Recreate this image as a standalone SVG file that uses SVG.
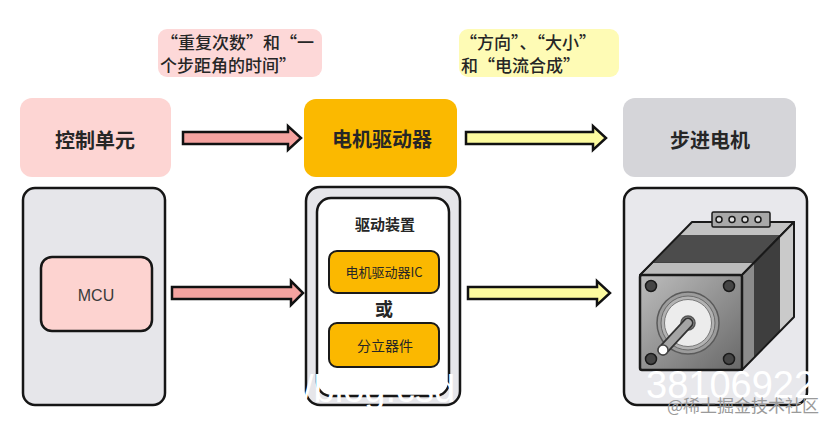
<svg xmlns="http://www.w3.org/2000/svg" width="828" height="423" viewBox="0 0 828 423">
<defs>
<style>
.cjk{font-family:"Noto Sans CJK SC","Noto Sans",sans-serif;fill:#262626}
.lat{font-family:"Liberation Sans","Noto Sans CJK SC",sans-serif;fill:#3a3a3a}
.title{font-size:20px;font-weight:700;text-anchor:middle;dominant-baseline:central}
.lbl{font-size:17px;font-weight:500}
.box{stroke:#161616;stroke-width:2.5}
.arrow{stroke:#111;stroke-width:2.5;stroke-linejoin:miter}
.ic{fill:#fbb800;stroke:#1a1a1a;stroke-width:2}
</style>
<linearGradient id="front" x1="0" y1="0" x2="1" y2="1">
<stop offset="0" stop-color="#bdbdbd"/>
<stop offset="1" stop-color="#686868"/>
</linearGradient>
</defs>
<rect width="828" height="423" fill="#ffffff"/>

<g id="label-control">
<rect x="158" y="29" width="164" height="48" rx="9" fill="#fdd8d8"/>
<text class="cjk lbl" x="161" y="48.5">“重复次数”和“一</text>
<text class="cjk lbl" x="160" y="71.5">个步距角的时间”</text>
</g>
<g id="label-driver">
<rect x="459" y="29" width="160" height="48" rx="9" fill="#fefbb5"/>
<text class="cjk lbl" x="460" y="48.5">“方向”、“大小”</text>
<text class="cjk lbl" x="461" y="71.5">和“电流合成”</text>
</g>

<g id="control-unit">
<rect x="20" y="98" width="151" height="79" rx="12" fill="#fdd5d3"/>
<text class="cjk title" x="95" y="139">控制单元</text>
</g>
<g id="motor-driver">
<rect x="304" y="99" width="153" height="78" rx="12" fill="#fbb900"/>
<text class="cjk title" x="382" y="138">电机驱动器</text>
</g>
<g id="stepper-motor">
<rect x="623" y="98" width="173" height="79" rx="12" fill="#d5d5d9"/>
<text class="cjk title" x="710" y="139">步进电机</text>
</g>

<g id="mcu-panel">
<rect class="box" x="23" y="188" width="142" height="217" rx="12" fill="#e6e6ea"/>
<rect class="box" x="41" y="257" width="111" height="74" rx="11" fill="#fdd3d0"/>
<text class="lat" x="96" y="295" font-size="16" text-anchor="middle" dominant-baseline="central">MCU</text>
</g>

<g id="driver-panel">
<rect class="box" x="306" y="187" width="154" height="218" rx="14" fill="#e6e6ea"/>
<rect class="box" x="317" y="198" width="132" height="198" rx="14" fill="#ffffff"/>
<text class="cjk" x="385" y="223" font-size="15" font-weight="700" text-anchor="middle" dominant-baseline="central">驱动装置</text>
<rect class="ic" x="329" y="251" width="110" height="42" rx="8"/>
<text class="cjk" x="384" y="271" font-size="13" text-anchor="middle" dominant-baseline="central">电机驱动器IC</text>
<text class="cjk" x="384" y="308" font-size="18" font-weight="700" text-anchor="middle" dominant-baseline="central">或</text>
<rect class="ic" x="329" y="323" width="110" height="44" rx="8"/>
<text class="cjk" x="385" y="345" font-size="14" text-anchor="middle" dominant-baseline="central">分立器件</text>
</g>

<g id="motor-panel">
<rect class="box" x="624" y="188" width="183" height="217" rx="13" fill="#e8e8ec"/>
<g stroke="#1a1a1a" stroke-width="1.5" stroke-linejoin="round">
<polygon points="640,275 742,275 755,262 653,262" fill="#bcbcbc"/>
<polygon points="653,262 755,262 781,235 679,235" fill="#4c4c4c" stroke="none"/>
<polygon points="679,235 781,235 794,222 692,222" fill="#c2c2c2" stroke="none"/>
<polygon points="640,275 742,275 794,222 692,222" fill="none" stroke-width="2"/>
<polygon points="742,275 754,263 754,358 742,370" fill="#8c8c8c" stroke="none"/>
<polygon points="754,263 780,236 780,331 754,358" fill="#3e3e3e" stroke="none"/>
<polygon points="780,236 794,222 794,317 780,331" fill="#cacaca" stroke="none"/>
<polygon points="742,275 794,222 794,317 742,370" fill="none" stroke-width="2"/>
<rect x="712" y="212" width="58" height="15" rx="1.5" fill="#a8a8a8"/>
<circle cx="719" cy="219.5" r="3" fill="#e0e0e0"/>
<circle cx="732" cy="219.5" r="3" fill="#e0e0e0"/>
<circle cx="745" cy="219.5" r="3" fill="#e0e0e0"/>
<circle cx="758" cy="219.5" r="3" fill="#e0e0e0"/>
<rect x="640" y="275" width="102" height="95" rx="2" fill="url(#front)" stroke-width="2.5"/>
<circle cx="651" cy="286" r="5.5" fill="#454545"/>
<circle cx="729" cy="286" r="5.5" fill="#454545"/>
<circle cx="651" cy="359" r="5.5" fill="#454545"/>
<circle cx="729" cy="359" r="5.5" fill="#454545"/>
<circle cx="688" cy="323" r="31" fill="#9c9c9c" stroke="#5a5a5a"/>
<circle cx="688" cy="323" r="27" fill="#b2b2b2" stroke="#6a6a6a" stroke-width="1"/>
<circle cx="688" cy="323" r="23.5" fill="#ececec" stroke="#7a7a7a" stroke-width="1"/>
<circle cx="688" cy="323" r="7" fill="#8a8a8a" stroke="#555"/>
<line x1="688" y1="323" x2="663" y2="350" stroke="#333" stroke-width="11" stroke-linecap="round"/>
<line x1="688" y1="323" x2="663" y2="350" stroke="#a4a4a4" stroke-width="7.5" stroke-linecap="round"/>
<circle cx="663" cy="350" r="5" fill="#ffffff" stroke="#444"/>
</g>
</g>

<g id="connectors">
<path class="arrow" fill="#f5a3a0" d="M183,132 L288,132 L288,126 L301,138 L288,150 L288,144 L183,144 Z"/>
<path class="arrow" fill="#fdfb9f" d="M466,132 L593,132 L593,126 L606,138 L593,150 L593,144 L466,144 Z"/>
<path class="arrow" fill="#f5a3a0" d="M172,287 L291,287 L291,281 L303,293 L291,305 L291,299 L172,299 Z"/>
<path class="arrow" fill="#fdfb9f" d="M468,287 L597,287 L597,281 L610,293 L597,305 L597,299 L468,299 Z"/>
</g>

<g id="watermarks">
<text x="303" y="402" font-family="Liberation Sans, sans-serif" font-size="38" fill="#ffffff">/blog.csd</text>
<text x="646" y="398" font-family="Liberation Sans, sans-serif" font-size="38" fill="#ffffff">38106922</text>
<text x="667" y="412" font-family="Noto Sans CJK SC, sans-serif" font-size="17" fill="#9a9a9a">@稀土掘金技术社区</text>
</g>
</svg>
